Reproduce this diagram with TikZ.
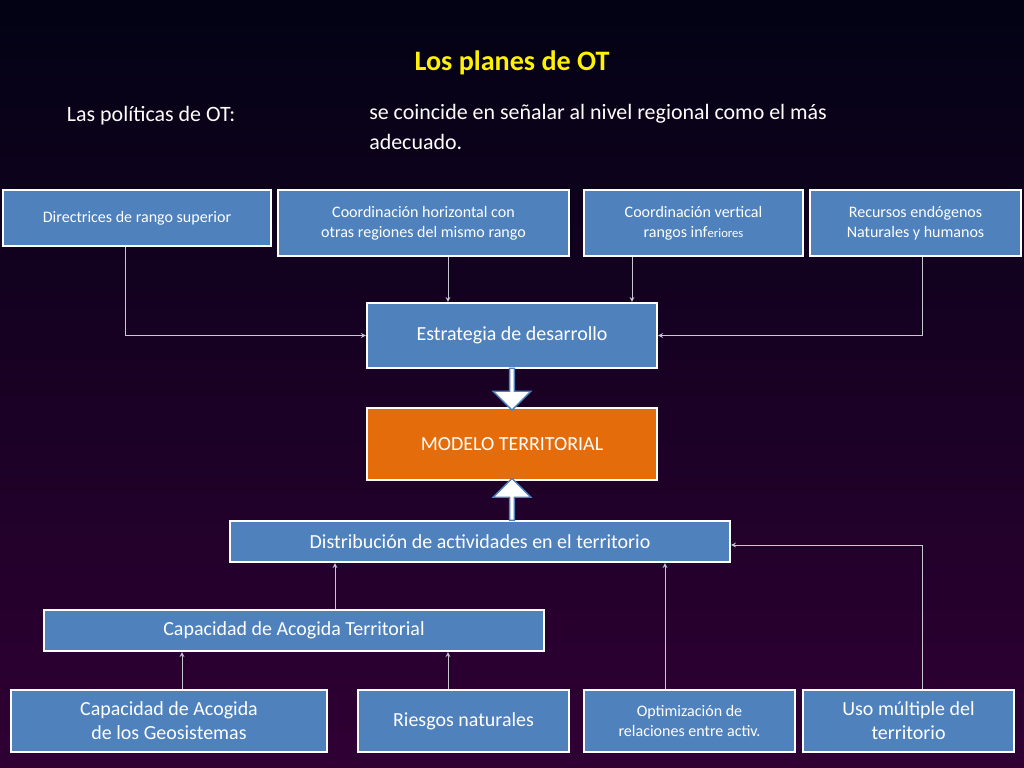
\documentclass[tikz,border=0pt]{standalone}
\usepackage{fontspec}
\setmainfont{Carlito}
\usetikzlibrary{shapes,arrows,positioning}
\definecolor{boxblue}{RGB}{79,129,189}
\definecolor{boxorange}{RGB}{228,108,10}
\definecolor{bgtop}{RGB}{2,2,20}
\definecolor{bgbot}{RGB}{48,0,52}
\definecolor{linegray}{RGB}{200,200,210}
\begin{document}
\begin{tikzpicture}[x=0.025cm, y=-0.025cm,
    box/.style={draw=white, line width=1.5pt, fill=boxblue, text=white, align=center, inner sep=0pt},
    small/.style={font=\fontsize{11.4}{14}\selectfont},
    big/.style={font=\fontsize{14.2}{17}\selectfont},
    link/.style={->, >=stealth, linegray, line width=0.6pt},
    fat/.style={single arrow, draw=boxblue, fill=white, line width=1pt, minimum height=1.05cm, minimum width=0.95cm, single arrow head extend=0.12cm, inner sep=0pt}]
    % background
    \shade[top color=bgtop, bottom color=bgbot] (0,0) rectangle (1024,768);
    \useasboundingbox (0,0) rectangle (1024,768);
    % heading
    \node[text=yellow, font=\fontsize{20}{24}\selectfont\bfseries] (title) at (512,63) {Los planes de OT};
    \node[anchor=west, text=white, font=\fontsize{15.6}{20}\selectfont] (pol) at (62,116) {Las políticas de OT:};
    \node[anchor=north west, text=white, align=left, font=\fontsize{15.6}{21.5}\selectfont, inner sep=0pt] (coinc) at (369,104)
        {se coincide en señalar al nivel regional como el más\\adecuado.};
    % top row
    \node[box, small, minimum width=268*0.025cm, minimum height=56*0.025cm] (dir) at (137,218) {Directrices de rango superior};
    \node[box, small, minimum width=291*0.025cm, minimum height=66*0.025cm] (hor) at (423.5,223) {Coordinación horizontal con\\otras regiones del mismo rango};
    \node[box, small, minimum width=219*0.025cm, minimum height=66*0.025cm] (ver) at (693.5,223) {Coordinación vertical\\rangos inf{\fontsize{9}{11}\selectfont eriores}};
    \node[box, small, minimum width=211*0.025cm, minimum height=66*0.025cm] (rec) at (915.5,223) {Recursos endógenos\\Naturales y humanos};
    % middle
    \node[box, big, minimum width=290*0.025cm, minimum height=65*0.025cm] (est) at (512,335.5) {Estrategia de desarrollo};
    \node[box, big, fill=boxorange, minimum width=290*0.025cm, minimum height=72*0.025cm] (mod) at (512,444) {MODELO TERRITORIAL};
    \node[box, big, minimum width=500*0.025cm, minimum height=41*0.025cm] (dis) at (480,541.5) {Distribución de actividades en el territorio};
    \node[box, big, minimum width=500*0.025cm, minimum height=41*0.025cm] (cap) at (294,630.5) {Capacidad de Acogida Territorial};
    % bottom row
    \node[box, big, minimum width=316*0.025cm, minimum height=62*0.025cm] (geo) at (169,721) {Capacidad de Acogida\\de los Geosistemas};
    \node[box, big, minimum width=211*0.025cm, minimum height=62*0.025cm] (rie) at (463.5,721) {Riesgos naturales};
    \node[box, small, minimum width=211*0.025cm, minimum height=62*0.025cm] (opt) at (689.5,721) {Optimización de\\relaciones entre activ.};
    \node[box, big, minimum width=211*0.025cm, minimum height=62*0.025cm] (uso) at (908.5,721) {Uso múltiple del\\territorio};
    % connector columns
    \coordinate (c1) at (125,545);
    \coordinate (c2) at (448,0);
    \coordinate (c3) at (632,0);
    \coordinate (c4) at (922,545);
    \coordinate (c5) at (335,0);
    \coordinate (c6) at (182,0);
    \coordinate (c7) at (665,0);
    % connectors
    \draw[link] (dir.south -| c1) |- (est.west);
    \draw[link] (hor.south -| c2) -- (est.north -| c2);
    \draw[link] (ver.south -| c3) -- (est.north -| c3);
    \draw[link] (rec.south -| c4) |- (est.east);
    \draw[link] (cap.north -| c5) -- (dis.south -| c5);
    \draw[link] (geo.north -| c6) -- (cap.south -| c6);
    \draw[link] (rie.north -| c2) -- (cap.south -| c2);
    \draw[link] (opt.north -| c7) -- (dis.south -| c7);
    \draw[link] (uso.north -| c4) |- (dis.east |- c4);
    % block arrows
    \node[fat, shape border rotate=270] (down) at (512,388) {};
    \node[fat, shape border rotate=90] (up) at (512,500.5) {};
\end{tikzpicture}
\end{document}
